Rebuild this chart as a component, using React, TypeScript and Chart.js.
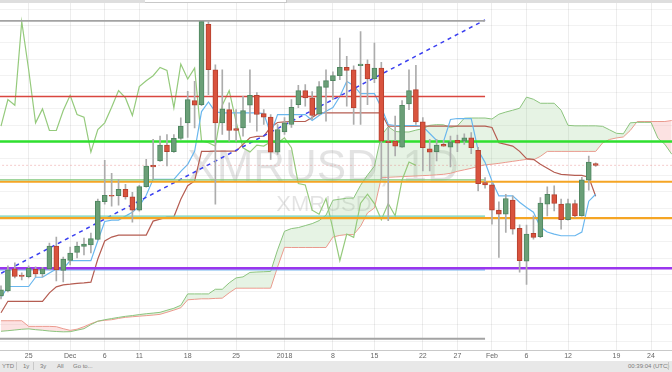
import React, { useEffect, useRef } from 'react';
import { Chart, registerables } from 'chart.js';

Chart.register(...registerables);

// x axis: ordinal day index (1 = first visible candle)
const tickIndex = [5, 11, 16, 21, 28, 35, 42, 49, 55, 62, 67, 72, 77, 83, 90, 95];
const tickLabels = ['25', 'Dec', '6', '11', '18', '25', '2018', '8', '15', '22', '27', 'Feb', '6', '12', '19', '24'];
const yGridValues = [60, 80, 100, 120, 140, 160, 180, 200, 220, 240, 260, 280, 300, 320, 340, 360, 380, 400, 420, 440, 460];

// daily candles XMR/USD
const opens = [114.8, 120.8, 147.2, 139.4, 138.0, 146.6, 141.2, 147.2, 174.8, 145.4,
  157.4, 167.0, 174.2, 176.0, 182.6, 228.2, 236.0, 235.4, 243.2, 234.0,
  218.0, 246.4, 272.0, 277.2, 296.4, 288.4, 304.4, 323.2, 350.0, 345.2,
  442.0, 387.2, 323.2, 339.2, 316.4, 317.2, 344.4, 356.4, 334.4, 330.0,
  288.0, 312.4, 321.2, 345.2, 362.0, 353.2, 334.0, 366.0, 374.0, 380.0,
  390.0, 387.2, 392.0, 394.0, 376.0, 389.2, 301.2, 301.2, 294.0, 346.0,
  363.2, 324.4, 292.0, 288.4, 297.2, 294.0, 302.0, 301.2, 305.2, 290.0,
  251.2, 248.4, 218.0, 213.2, 230.0, 196.0, 156.4, 190.0, 186.0, 225.2,
  236.8, 225.2, 206.4, 226.0, 211.2, 254.0, 274.0];
const highs = [126.8, 150.8, 154.4, 142.4, 150.8, 149.6, 149.0, 178.4, 185.6, 161.6,
  173.6, 179.6, 184.4, 190.4, 231.2, 278.0, 262.4, 255.2, 249.2, 239.6,
  248.0, 279.2, 303.2, 307.2, 309.2, 309.2, 329.2, 361.2, 373.2, 446.0,
  445.2, 393.2, 387.2, 347.2, 339.2, 355.2, 387.2, 359.6, 339.2, 333.2,
  321.2, 329.6, 351.2, 368.4, 369.2, 360.8, 372.8, 387.2, 384.8, 425.2,
  403.2, 392.0, 433.2, 399.2, 419.2, 396.0, 317.6, 331.2, 350.0, 387.2,
  392.4, 329.6, 303.2, 303.2, 302.0, 307.2, 308.4, 310.0, 311.6, 293.6,
  257.2, 251.6, 228.0, 237.2, 235.2, 200.4, 200.0, 211.2, 233.2, 246.0,
  247.2, 231.2, 231.2, 230.0, 257.6, 283.2, 275.0];
const lows = [111.2, 119.6, 136.4, 134.0, 136.4, 137.6, 137.6, 146.0, 132.8, 131.6,
  152.0, 160.4, 164.0, 166.4, 182.0, 225.2, 222.8, 224.0, 231.2, 203.6,
  216.8, 245.6, 255.2, 276.8, 271.2, 287.6, 303.2, 305.6, 317.2, 344.0,
  357.2, 225.2, 309.2, 301.2, 301.2, 307.2, 323.6, 313.2, 321.2, 279.2,
  285.2, 309.2, 317.6, 341.6, 343.2, 327.2, 332.0, 325.2, 351.2, 375.2,
  343.2, 321.2, 321.2, 345.2, 371.6, 255.2, 205.2, 283.2, 293.6, 339.2,
  321.2, 265.2, 265.2, 277.2, 294.8, 270.0, 288.4, 297.2, 286.0, 241.2,
  244.4, 201.2, 161.2, 191.2, 189.2, 143.2, 128.4, 183.2, 185.0, 211.2,
  217.2, 195.2, 206.0, 209.2, 210.8, 242.0, 270.8];
const closes = [122.0, 146.0, 138.2, 138.2, 148.0, 141.2, 147.2, 174.8, 146.0, 159.2,
  166.4, 174.8, 177.2, 183.8, 228.8, 236.0, 234.8, 243.2, 234.0, 218.0,
  246.4, 271.2, 270.0, 296.4, 288.4, 304.4, 319.2, 351.2, 344.4, 445.2,
  387.2, 323.2, 340.0, 314.0, 314.0, 338.0, 356.4, 333.2, 330.0, 288.0,
  315.2, 323.2, 342.0, 362.0, 353.2, 332.0, 366.8, 374.0, 380.0, 390.0,
  386.4, 341.2, 394.0, 376.0, 389.2, 301.2, 299.2, 295.2, 344.4, 362.0,
  324.4, 293.2, 288.0, 296.4, 295.2, 300.4, 298.8, 305.2, 293.2, 250.0,
  248.4, 218.0, 213.2, 232.0, 195.2, 157.2, 189.2, 185.2, 226.4, 237.2,
  226.0, 206.4, 226.0, 211.2, 254.4, 276.0, 272.0];

// Ichimoku
const tenkan = [112.4, 126.0, 126.0, 126.0, 126.0, 137.2, 137.2, 142.4, 147.2, 147.2,
  157.2, 157.2, 157.2, 157.2, 181.2, 204.4, 206.0, 206.0, 210.8, 215.6,
  222.8, 236.0, 255.2, 255.2, 255.2, 255.2, 264.8, 273.2, 288.8, 336.8,
  348.4, 336.4, 335.2, 335.2, 335.2, 335.2, 335.2, 335.2, 334.4, 310.0,
  333.2, 333.2, 333.2, 333.2, 333.2, 326.0, 332.0, 337.2, 341.6, 355.0,
  373.2, 368.0, 358.4, 358.4, 358.4, 341.6, 321.2, 320.0, 320.0, 320.0,
  320.0, 318.8, 310.4, 302.0, 300.8, 327.2, 328.4, 328.4, 328.4, 290.0,
  275.6, 253.2, 235.2, 235.2, 235.2, 227.6, 221.2, 215.6, 197.6, 191.6,
  189.2, 187.2, 187.2, 187.2, 191.6, 228.8, 237.2];
const kijun = [94.4, 108.2, 108.2, 108.2, 108.2, 108.2, 108.2, 118.4, 125.6, 128.0,
  128.8, 129.8, 130.4, 131.2, 159.2, 180.8, 185.6, 188.0, 188.0, 188.0,
  188.0, 188.0, 204.8, 207.2, 209.6, 210.0, 231.2, 247.4, 253.2, 288.8,
  288.8, 289.2, 289.2, 289.2, 289.2, 297.2, 305.2, 306.8, 307.2, 318.0,
  323.6, 324.4, 324.8, 324.8, 324.8, 329.6, 335.2, 335.2, 335.2, 335.2,
  335.2, 335.2, 335.2, 335.2, 335.2, 335.2, 319.2, 319.2, 319.2, 319.2,
  319.2, 319.2, 319.2, 319.2, 319.2, 319.2, 319.2, 319.2, 319.2, 319.2,
  319.2, 317.6, 299.2, 297.2, 295.2, 288.8, 280.0, 279.2, 273.2, 268.4,
  263.6, 261.2, 260.6, 260.0, 260.0, 257.6, 234.8];
const chikou = [319.2, 351.2, 344.4, 445.2, 387.2, 323.2, 340.0, 314.0, 314.0, 338.0,
  356.4, 333.2, 330.0, 288.0, 315.2, 323.2, 342.0, 362.0, 353.2, 332.0,
  366.8, 374.0, 380.0, 390.0, 386.4, 341.2, 394.0, 376.0, 389.2, 301.2,
  299.2, 295.2, 344.4, 362.0, 324.4, 293.2, 288.0, 296.4, 295.2, 300.4,
  298.8, 305.2, 293.2, 250.0, 248.4, 218.0, 213.2, 232.0, 195.2, 157.2,
  189.2, 185.2, 226.4, 237.2, 226.0, 206.4, 226.0, 211.2, 254.4, 276.0,
  272.0];
const senkouA = [72.1, 72.8, 73.6, 74.5, 75.0, 74.0, 73.3, 72.4, 71.8, 71.4,
  71.6, 73.4, 75.2, 80.1, 84.2, 86.0, 87.4, 88.8, 90.1, 91.0,
  92.2, 93.2, 94.0, 94.9, 97.4, 99.8, 103.4, 117.1, 117.1, 117.1,
  117.1, 122.7, 122.7, 130.4, 136.4, 137.6, 143.0, 143.5, 143.8, 144.2,
  170.2, 192.6, 195.8, 197.0, 199.4, 201.8, 205.4, 212.0, 230.0, 231.2,
  232.4, 232.6, 248.0, 260.3, 271.0, 308.0, 318.6, 312.8, 312.2, 312.2,
  314.4, 316.2, 320.2, 321.0, 320.8, 317.6, 319.4, 328.8, 329.0, 329.0,
  329.0, 327.8, 333.6, 336.2, 338.4, 340.8, 354.2, 351.6, 346.8, 346.8,
  346.8, 338.4, 320.2, 319.6, 319.6, 319.6, 319.6, 319.0, 314.8, 310.6,
  310.0, 323.2, 323.8, 323.8, 323.8, 304.6, 297.4, 285.4];
const senkouB = [84.8, 84.8, 84.8, 84.8, 78.0, 78.0, 78.0, 78.0, 77.6, 75.2,
  73.2, 74.6, 77.6, 81.2, 84.2, 85.3, 86.0, 87.6, 88.9, 89.6,
  90.3, 90.9, 91.6, 92.5, 95.0, 97.6, 100.4, 110.0, 110.6, 111.2,
  111.2, 111.7, 112.0, 118.4, 124.0, 124.0, 124.0, 124.0, 124.0, 124.0,
  149.6, 173.2, 173.0, 173.0, 173.0, 173.0, 173.0, 173.0, 185.6, 187.6,
  188.6, 188.6, 198.6, 214.6, 220.6, 257.0, 257.6, 258.0, 258.4, 258.8,
  259.2, 259.6, 260.0, 260.6, 261.2, 262.4, 264.8, 266.6, 268.4, 270.8,
  272.6, 273.4, 274.4, 275.6, 276.8, 278.0, 279.2, 278.6, 282.8, 288.8,
  288.8, 288.8, 288.8, 288.8, 288.8, 288.8, 288.8, 299.0, 303.2, 305.0,
  306.2, 314.0, 324.8, 324.8, 324.8, 324.8, 324.8, 326.0];

// drawn levels: price, end index (all start at the left edge)
const levelPrices = [446.0, 354.8, 300.8, 254.6, 252.2, 210.8, 208.4, 148.0, 146.0, 63.2];
const levelEnds = [71, 71, 99, 71, 99, 71, 99, 99, 71, 71];
const levelColors = ['#a3a3a3', '#d9463f', '#2fe02f', '#7fc77a', '#f5a524', '#6fd0b4', '#f5a524', '#9a35ee', '#74b6ee', '#a3a3a3'];
const levelWidths = [1.6, 1.5, 2.6, 1.3, 2.2, 1.3, 2.2, 2.6, 1.3, 2];
const trendStart = [0, 137.5];
const trendEnd = [71, 447.2];
const lastPrice = 272.0;

const watermark = {
  id: 'watermark',
  beforeDatasetsDraw(chart: any) {
    const ctx = chart.ctx;
    ctx.save();
    ctx.fillStyle = 'rgba(0,0,0,0.11)';
    ctx.textAlign = 'center';
    ctx.textBaseline = 'alphabetic';
    ctx.font = '44px "Liberation Sans", Arial, sans-serif';
    ctx.fillText('XMRUSD, 1D', 323, 181);
    ctx.font = '22px "Liberation Sans", Arial, sans-serif';
    ctx.fillText('XMRUSD', 324, 211);
    ctx.restore();
  },
};

export default function App() {
  const ref = useRef<HTMLCanvasElement>(null);

  useEffect(() => {
    if (!ref.current) return;
    const pts = (arr: number[]) => arr.map((v, k) => ({ x: k + 1, y: v }));
    const isUp = (k: number) => closes[k] >= opens[k];
    const bodies = opens.map((o, k) => ({ x: k + 1, y: [o, closes[k]] }));
    const wicks = highs.map((h, k) => ({ x: k + 1, y: [lows[k], h] }));

    const datasets: any[] = [];
    datasets.push({
      type: 'bar', data: bodies, order: 0, grouped: false, barThickness: 5, minBarLength: 1,
      backgroundColor: (c: any) => (isUp(c.dataIndex) ? '#6a9f77' : '#d9533e'),
      borderColor: (c: any) => (isUp(c.dataIndex) ? '#4f8660' : '#b5402f'),
      borderWidth: 1, borderSkipped: false,
    });
    datasets.push({
      type: 'bar', data: wicks, order: 1, grouped: false, barThickness: 1,
      backgroundColor: '#acacac', borderWidth: 0,
    });
    levelPrices.forEach((p, k) => {
      datasets.push({
        type: 'line', order: 2, data: [{ x: 0, y: p }, { x: levelEnds[k], y: p }],
        borderColor: levelColors[k], borderWidth: levelWidths[k], pointRadius: 0, fill: false,
      });
    });
    datasets.push({
      type: 'line', order: 2, data: [{ x: 0, y: lastPrice }, { x: 99, y: lastPrice }],
      borderColor: 'rgba(225,110,110,0.35)', borderWidth: 1, borderDash: [2, 2], pointRadius: 0, fill: false,
    });
    datasets.push({
      type: 'line', order: 2, data: [{ x: trendStart[0], y: trendStart[1] }, { x: trendEnd[0], y: trendEnd[1] }],
      borderColor: '#3a3ff0', borderWidth: 1.5, borderDash: [4, 4], pointRadius: 0, fill: false,
    });
    datasets.push({ type: 'line', order: 3, data: pts(tenkan), borderColor: '#6ab7ee', borderWidth: 1.2, pointRadius: 0, fill: false });
    datasets.push({ type: 'line', order: 3, data: pts(kijun), borderColor: '#b55d52', borderWidth: 1.2, pointRadius: 0, fill: false });
    datasets.push({ type: 'line', order: 3, data: pts(chikou), borderColor: '#95ca7c', borderWidth: 1.2, pointRadius: 0, fill: false });
    const bIndex = datasets.length + 1;
    datasets.push({
      type: 'line', order: 4, data: pts(senkouA), borderColor: '#8cc47e', borderWidth: 1, pointRadius: 0,
      fill: { target: bIndex, above: 'rgba(140,200,130,0.22)', below: 'rgba(245,140,140,0.25)' },
    });
    datasets.push({ type: 'line', order: 4, data: pts(senkouB), borderColor: '#f09a90', borderWidth: 1, pointRadius: 0, fill: false });

    const chart = new Chart(ref.current, {
      type: 'line',
      data: { datasets },
      options: {
        animation: false,
        responsive: false,
        events: [],
        layout: { padding: 0 },
        plugins: { legend: { display: false }, tooltip: { enabled: false } },
        scales: {
          x: {
            type: 'linear', min: 1 - 1 / 6.915, max: 1 + 671 / 6.915, offset: false,
            grid: { color: 'rgba(0,0,0,0.07)', drawTicks: false, offset: false },
            border: { color: '#c9c9c9' },
            afterBuildTicks: (s: any) => { s.ticks = tickIndex.map((v) => ({ value: v })); },
            ticks: {
              autoSkip: false, maxRotation: 0, padding: 1, color: '#666',
              font: { size: 7, family: '"Liberation Sans", Arial, sans-serif' },
              callback: (v: any) => tickLabels[tickIndex.indexOf(Number(v))],
            },
          },
          y: {
            type: 'linear', min: 48.8, max: 471.2,
            grid: { color: 'rgba(0,0,0,0.05)', drawTicks: false },
            border: { display: false },
            afterBuildTicks: (s: any) => { s.ticks = yGridValues.map((v) => ({ value: v })); },
            ticks: { display: false },
          },
        },
      },
      plugins: [watermark],
    } as any);
    return () => chart.destroy();
  }, []);

  const small: React.CSSProperties = { position: 'absolute', top: 1, fontSize: 6, color: '#7a7a7a', fontFamily: '"Liberation Sans", Arial, sans-serif', lineHeight: '9px' };
  return (
    <div style={{ position: 'absolute', left: 0, top: 0, width: 672, height: 372, background: '#fff', overflow: 'hidden' }}>
      <canvas ref={ref} width={672} height={361} style={{ display: 'block', width: 672, height: 361 }} />
      <div style={{ position: 'absolute', left: 0, top: 0, width: 672, height: 3, background: '#dedede' }} />
      <div style={{ position: 'absolute', left: 145, top: 0, width: 141, height: 2, background: '#fff', borderRight: '1px solid #c8c8c8', borderBottom: '1px solid #c8c8c8' }} />
      <div style={{ position: 'absolute', left: 0, top: 361, width: 672, height: 11, background: '#e8e8e8' }}>
        <span style={{ ...small, left: 2 }}>YTD</span>
        <span style={{ ...small, left: 16, width: 1, height: 8, background: '#c8c8c8' }} />
        <span style={{ ...small, left: 23 }}>1y</span>
        <span style={{ ...small, left: 33, width: 1, height: 8, background: '#c8c8c8' }} />
        <span style={{ ...small, left: 40 }}>3y</span>
        <span style={{ ...small, left: 57 }}>All</span>
        <span style={{ ...small, left: 73 }}>Go to...</span>
        <span style={{ ...small, left: 628 }}>00:39:04 (UTC)</span>
        <span style={{ ...small, left: 668, width: 1, height: 8, background: '#c8c8c8' }} />
      </div>
    </div>
  );
}
